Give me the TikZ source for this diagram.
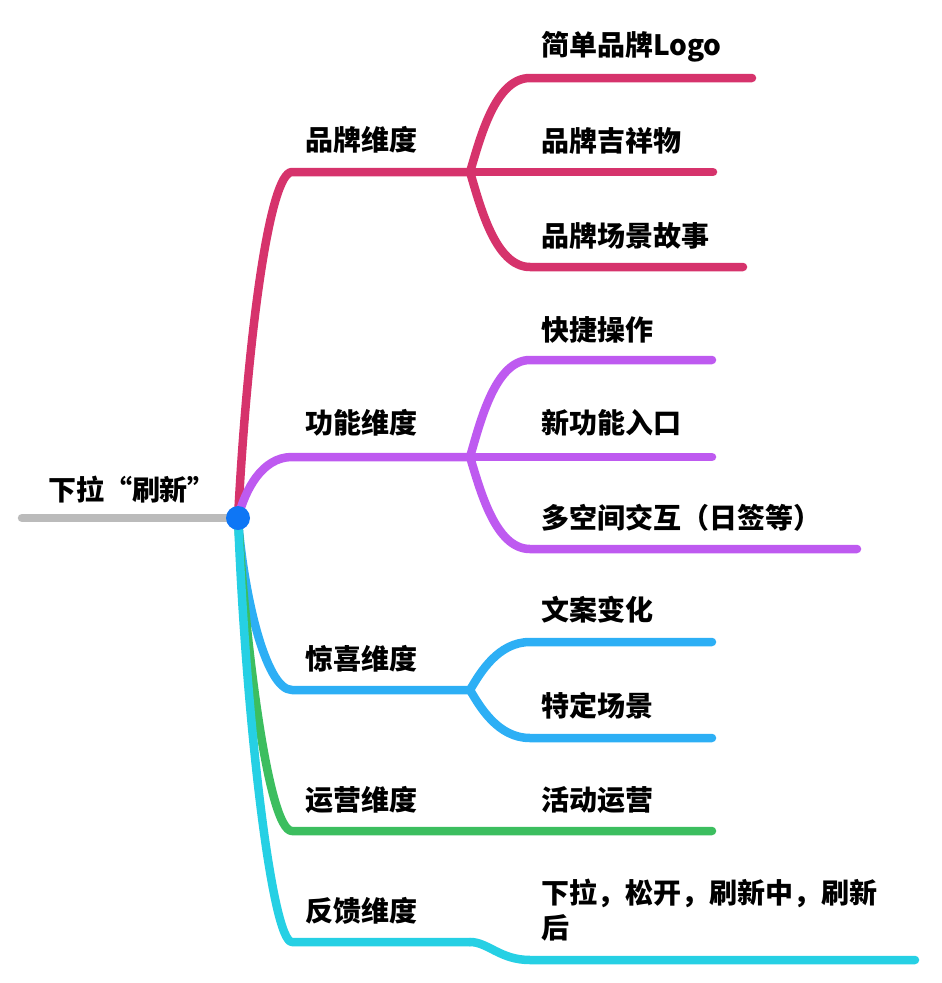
\documentclass[tikz,border=0pt]{standalone}
\usepackage{fontspec}
\setmainfont{Noto Sans CJK SC}
\usetikzlibrary{positioning}

\definecolor{rootc}{RGB}{187,187,187}
\definecolor{hubc}{RGB}{14,118,245}
\definecolor{brandc}{RGB}{214,51,108}
\definecolor{funcc}{RGB}{190,90,240}
\definecolor{surpc}{RGB}{45,175,245}
\definecolor{operc}{RGB}{60,190,95}
\definecolor{feedc}{RGB}{38,208,228}

\begin{document}
\begin{tikzpicture}[x=1pt, y=-1pt,
    branch/.style={line width=8.5pt, line cap=round, line join=round},
    topic/.style={anchor=west, inner sep=0pt, font=\fontsize{28}{35}\selectfont\bfseries}]
    \useasboundingbox (0,0) rectangle (942,983);

    % Root
    \coordinate (hub) at (238,518);
    \coordinate (tail) at (22,518);
    \draw[branch, rootc] (tail) -- (hub);
    \node[topic, anchor=center] (root) at (132,490) {下拉“刷新”};

    % Brand dimension
    \coordinate (brandL) at (292,172);
    \coordinate (brandR) at (470,172);
    \coordinate (logoL) at (530,78);
    \coordinate (logoR) at (752,78);
    \coordinate (mascotR) at (713,172);
    \coordinate (storyL) at (530,267);
    \coordinate (storyR) at (743,267);
    \draw[branch, brandc] (hub) .. controls (248,330) and (270,172) .. (brandL) -- (brandR);
    \draw[branch, brandc] (brandR) .. controls (480,139) and (495,78) .. (logoL) -- (logoR);
    \draw[branch, brandc] (brandR) -- (mascotR);
    \draw[branch, brandc] (brandR) .. controls (480,205) and (495,267) .. (storyL) -- (storyR);
    \node[topic] (brand) at (305,140) {品牌维度};
    \node[topic] (logo) at (541,47) {简单品牌Logo};
    \node[topic] (mascot) at (541,141) {品牌吉祥物};
    \node[topic] (story) at (541,236) {品牌场景故事};

    % Function dimension
    \coordinate (funcL) at (292,457);
    \coordinate (funcR) at (470,457);
    \coordinate (quickL) at (530,360);
    \coordinate (quickR) at (712,360);
    \coordinate (entryR) at (712,457);
    \coordinate (multiL) at (530,549);
    \coordinate (multiR) at (857,549);
    \draw[branch, funcc] (hub) .. controls (245,490) and (262,457) .. (funcL) -- (funcR);
    \draw[branch, funcc] (funcR) .. controls (480,423) and (495,360) .. (quickL) -- (quickR);
    \draw[branch, funcc] (funcR) -- (entryR);
    \draw[branch, funcc] (funcR) .. controls (480,489) and (495,549) .. (multiL) -- (multiR);
    \node[topic] (func) at (305,423) {功能维度};
    \node[topic] (quick) at (541,330) {快捷操作};
    \node[topic] (entry) at (541,423) {新功能入口};
    \node[topic] (multi) at (541,518) {多空间交互（日签等）};

    % Surprise dimension
    \coordinate (surpL) at (292,690);
    \coordinate (surpR) at (470,690);
    \coordinate (copyL) at (530,642);
    \coordinate (copyR) at (712,642);
    \coordinate (sceneL) at (530,738);
    \coordinate (sceneR) at (712,738);
    \draw[branch, surpc] (hub) .. controls (243,590) and (265,690) .. (surpL) -- (surpR);
    \draw[branch, surpc] (surpR) .. controls (480,673) and (498,642) .. (copyL) -- (copyR);
    \draw[branch, surpc] (surpR) .. controls (480,707) and (498,738) .. (sceneL) -- (sceneR);
    \node[topic] (surp) at (305,659) {惊喜维度};
    \node[topic] (copy) at (541,610) {文案变化};
    \node[topic] (scene) at (541,706) {特定场景};

    % Operation dimension
    \coordinate (operL) at (292,831);
    \coordinate (operR) at (712,831);
    \draw[branch, operc] (hub) .. controls (245,640) and (268,831) .. (operL) -- (operR);
    \node[topic] (oper) at (305,800) {运营维度};
    \node[topic] (event) at (541,800) {活动运营};

    % Feedback dimension
    \coordinate (feedL) at (292,942);
    \coordinate (feedR) at (470,942);
    \coordinate (flowL) at (530,960);
    \coordinate (flowR) at (915,960);
    \draw[branch, feedc] (hub) .. controls (246,720) and (272,942) .. (feedL) -- (feedR);
    \draw[branch, feedc] (feedR) .. controls (488,942) and (500,960) .. (flowL) -- (flowR);
    \node[topic] (feed) at (305,911) {反馈维度};
    \node[topic, align=left] (flow) at (541,910) {下拉，松开，刷新中，刷新\\后};

    % Hub dot
    \node[circle, fill=hubc, inner sep=0pt, minimum size=24pt] (hubdot) at (hub) {};
\end{tikzpicture}
\end{document}
